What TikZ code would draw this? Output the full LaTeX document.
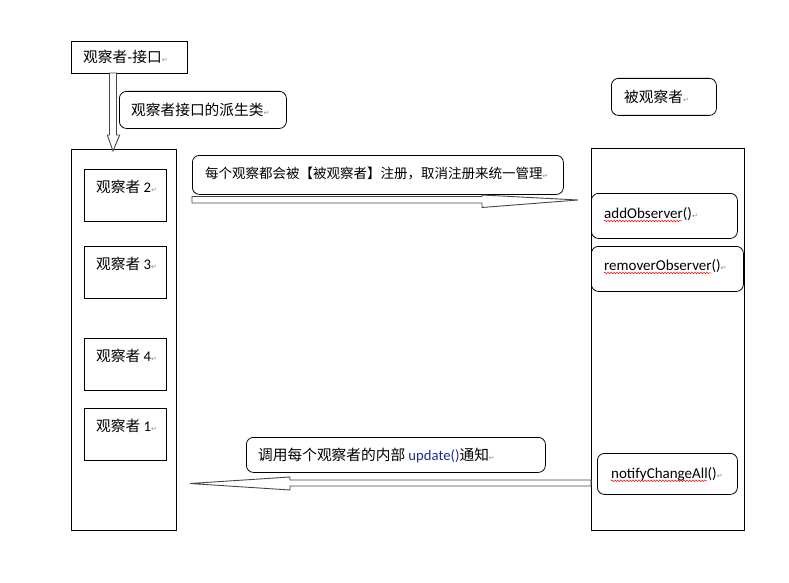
\documentclass[tikz,border=0pt]{standalone}
\usepackage{fontspec}
\setmainfont{Carlito}
\newfontfamily\cjk{Noto Sans CJK SC}
\newfontfamily\retfont{DejaVu Sans}
\usetikzlibrary{calc,decorations.pathmorphing}
\definecolor{retgray}{RGB}{140,140,140}
\definecolor{arrowgray}{RGB}{70,70,70}
\definecolor{updblue}{RGB}{25,45,150}
\newcommand{\ret}{\textcolor{retgray}{\retfont\fontsize{7}{7}\selectfont ↵}}

\begin{document}
\begin{tikzpicture}[x=1pt,y=-1pt,
    every node/.style={inner sep=0pt},
    sqbox/.style={draw,line width=0.8pt,anchor=north west},
    rbox/.style={draw,line width=0.8pt,rounded corners=7pt,anchor=north west},
    zh/.style={font=\cjk\fontsize{14.7}{16}\selectfont,anchor=west},
    en/.style={font=\fontsize{15}{17}\selectfont,anchor=west},
    wavy/.style={red,line width=0.5pt,decorate,
                 decoration={snake,amplitude=0.8pt,segment length=3pt}},
    blockarrow/.style={draw=arrowgray,fill=white,line width=0.9pt}]
  \useasboundingbox (0,0) rectangle (789,583);

  % interface and derived classes
  \node[sqbox,minimum width=116,minimum height=32] (iface) at (71,41) {};
  \node[zh] (ifacetxt) at (83,57) {观察者-接口\ret};
  \node[rbox,minimum width=167,minimum height=37] (derived) at (119,91) {};
  \node[zh] (derivedtxt) at (131,110) {观察者接口的派生类\ret};

  \node[sqbox,minimum width=105,minimum height=381] (obsgroup) at (71,149) {};
  \foreach \n/\y in {2/169,3/246,4/338,1/408}{
    \node[sqbox,minimum width=82,minimum height=52] (obs\n) at (84,\y) {};
    \node[zh] (obstxt\n) at (96,\y+18) {观察者 {\rmfamily\n}\ret};
  }

  % subject side
  \node[rbox,minimum width=105,minimum height=37] (subject) at (611,78) {};
  \node[zh] (subjecttxt) at (624,97) {被观察者\ret};
  \node[sqbox,minimum width=153,minimum height=382] (subjgroup) at (591,148) {};
  \node[rbox,minimum width=146,minimum height=45] (addobs) at (591,193) {};
  \node[en] (addobstxt) at (604,214) {addObserver()\ret};
  \node[rbox,minimum width=152,minimum height=45] (remobs) at (591,246) {};
  \node[en] (remobstxt) at (604,266) {removerObserver()\ret};
  \node[rbox,minimum width=140,minimum height=41] (notify) at (597,453) {};
  \node[en] (notifytxt) at (611,474) {notifyChangeAll()\ret};
  \foreach \t in {addobstxt,remobstxt,notifytxt}
    \draw[wavy] ([yshift=-2.5pt]\t.base west) -- ([xshift=-16pt,yshift=-2.5pt]\t.base east);

  % messages
  \node[rbox,minimum width=371,minimum height=39] (regmsg) at (192,155) {};
  \node[zh,font=\cjk\fontsize{13.5}{15}\selectfont] (regmsgtxt) at (205,174)
    {每个观察都会被【被观察者】注册，取消注册来统一管理\ret};
  \node[rbox,minimum width=299,minimum height=35] (callmsg) at (246,437) {};
  \node[zh] (callmsgtxt) at (258,455)
    {调用每个观察者的内部 {\rmfamily\color{updblue}update()}通知\ret};

  % block arrows
  \coordinate (ifacetail) at (113,73);
  \coordinate (downtip) at (113,151);
  \coordinate (regtail) at (192,199.75);
  \coordinate (regtip) at (578,200);
  \coordinate (calltail) at (591,483);
  \coordinate (calltip) at (190,483.5);

  \draw[blockarrow] (ifacetail) ++(-3.5,0) -- ++(0,62) -- ++(-2.2,0) -- (downtip)
    -- ++(6.7,-16) -- ++(-3.2,0) -- ($(ifacetail)+(3.5,0)$) -- cycle;
  \draw[blockarrow] (regtail) ++(0,-3.25) -- ++(290,0) -- ++(0,-1.5) -- (regtip)
    -- ++(-96,7.5) -- ++(0,-4.5) -- ($(regtail)+(0,3.25)$) -- cycle;
  \draw[blockarrow] (calltail) ++(0,-3) -- ++(-301,0) -- ++(0,-3) -- (calltip)
    -- ++(100,6.5) -- ++(0,-4) -- ($(calltail)+(0,3)$) -- cycle;
\end{tikzpicture}
\end{document}
